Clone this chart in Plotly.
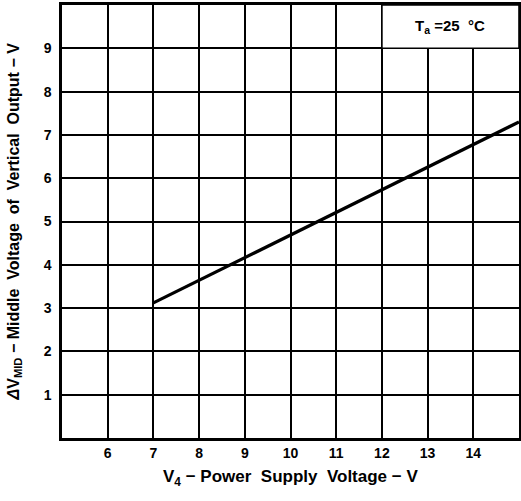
import plotly.graph_objects as go

supply_v = [7, 15]
mid_v = [3.12, 7.3]
x_ticks = [6, 7, 8, 9, 10, 11, 12, 13, 14]
y_ticks = [1, 2, 3, 4, 5, 6, 7, 8, 9]

fig = go.Figure()
fig.add_trace(go.Scatter(x=supply_v, y=mid_v, mode="lines",
                         line=dict(color="black", width=3.2), showlegend=False))

font = dict(family="Liberation Sans, Arial, sans-serif", size=13, color="black")
fig.update_layout(
    width=521, height=501,
    margin=dict(l=62, r=2, t=5, b=63),
    paper_bgcolor="white", plot_bgcolor="white",
    font=font,
    xaxis=dict(range=[5, 15], tickvals=x_ticks, ticktext=[str(v) for v in x_ticks],
               showgrid=True, gridcolor="black", gridwidth=1.6, automargin=False,
               showline=True, linecolor="black", linewidth=2.5, mirror=True,
               zeroline=False, ticks="", tickfont=dict(size=14, weight="bold")),
    yaxis=dict(range=[0, 10], tickvals=y_ticks, ticktext=[str(v) for v in y_ticks],
               showgrid=True, gridcolor="black", gridwidth=1.6, automargin=False,
               showline=True, linecolor="black", linewidth=2.5, mirror=True,
               zeroline=False, ticks="", ticklabelstandoff=5,
               tickfont=dict(size=14, weight="bold")),
)
fig.add_shape(type="rect", xref="x", yref="y", x0=12, x1=15, y0=9, y1=10,
              fillcolor="white", line=dict(color="black", width=1.6), layer="above")
fig.add_annotation(x=13.5, y=9.5, xref="x", yref="y", showarrow=False,
                   text="T<sub>a</sub> =25  °C", font=dict(size=15, weight="bold"))
fig.add_annotation(x=0.5, y=0, xref="paper", yref="paper", yanchor="middle",
                   yshift=-40, showarrow=False,
                   text="V<sub>4</sub> − Power  Supply  Voltage − V",
                   font=dict(size=17, weight="bold"))
fig.add_annotation(x=0, y=0.5, xref="paper", yref="paper", xanchor="center",
                   xshift=-48, showarrow=False, textangle=-90,
                   text="<i>Δ</i>V<sub>MID</sub> − Middle  Voltage  of  Vertical  Output − V",
                   font=dict(size=16, weight="bold"))
fig.write_html("out.html", config={"displayModeBar": False},
               post_script="document.body.style.margin='0';")
